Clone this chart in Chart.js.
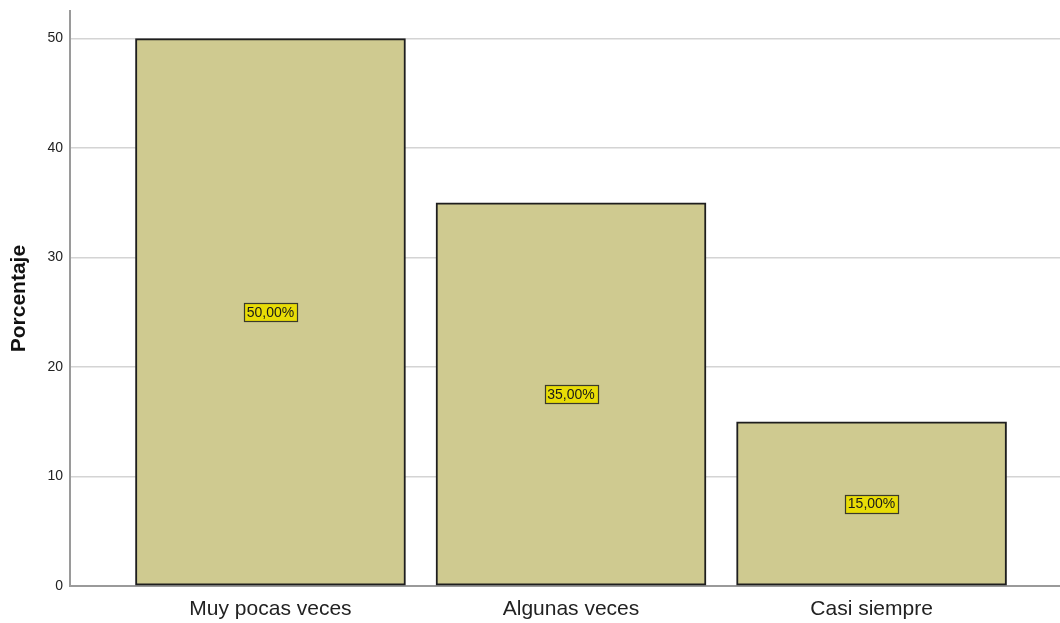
<!DOCTYPE html>
<html>
<head>
<meta charset="utf-8">
<script src="https://cdn.jsdelivr.net/npm/chart.js@4/dist/chart.umd.min.js"></script>
<style>
  html, body { margin: 0; padding: 0; background: #fff; }
  #wrap { width: 1060px; height: 623px; }
</style>
</head>
<body>
<div id="wrap"><canvas id="chart"></canvas></div>
<script>
const categories = ['Muy pocas veces', 'Algunas veces', 'Casi siempre'];
const percentages = [50, 35, 15];
const yTicks = [0, 10, 20, 30, 40, 50];

const FONT = 'Arial, "Liberation Sans", sans-serif';

// yellow value boxes in the middle of each bar
const valueBoxes = {
    id: 'valueBoxes',
    afterDatasetsDraw(chart) {
        const ctx = chart.ctx;
        const meta = chart.getDatasetMeta(0);
        ctx.save();
        ctx.font = '14px ' + FONT;
        ctx.textAlign = 'center';
        ctx.textBaseline = 'middle';
        meta.data.forEach((bar, i) => {
            const text = percentages[i].toFixed(2).replace('.', ',') + '%';
            const cx = bar.x;
            const cy = (bar.y + bar.base) / 2;
            const w = Math.round(ctx.measureText(text).width + 6);
            const h = 18;
            const left = Math.round(cx - w / 2);
            const top = Math.round(cy - h / 2);
            ctx.fillStyle = '#e8dc06';
            ctx.fillRect(left, top, w, h);
            ctx.strokeStyle = '#3a3a2a';
            ctx.lineWidth = 1.2;
            ctx.strokeRect(left + 0.5, top + 0.5, w, h);
            ctx.fillStyle = '#1a1a1a';
            ctx.fillText(text, cx, cy + 1);
        });
        ctx.restore();
    }
};

new Chart(document.getElementById('chart'), {
    type: 'bar',
    data: {
        datasets: [{
            data: percentages.map((v, i) => ({ x: i, y: v })),
            backgroundColor: '#cfca90',
            borderColor: '#1e1e1e',
            borderWidth: 2,
            borderSkipped: false,
            barThickness: 270
        }]
    },
    options: {
        responsive: true,
        maintainAspectRatio: false,
        animation: false,
        layout: { padding: { top: 10, right: 0, left: 0, bottom: 0 } },
        plugins: {
            legend: { display: false },
            tooltip: { enabled: false }
        },
        scales: {
            x: {
                type: 'linear',
                offset: false,
                min: -0.667,
                max: 2.627,
                afterBuildTicks: (scale) => {
                    scale.ticks = categories.map((c, i) => ({ value: i }));
                },
                afterFit: (scale) => { scale.height = 37; },
                grid: { display: false, drawTicks: false, offset: false },
                border: { display: true, color: '#9a9a9a', width: 2 },
                ticks: {
                    padding: 11,
                    color: '#222',
                    font: { family: FONT, size: 21 },
                    maxRotation: 0,
                    callback: (v) => categories[v]
                }
            },
            y: {
                min: 0,
                max: 52.5,
                afterBuildTicks: (scale) => {
                    scale.ticks = yTicks.map(v => ({ value: v }));
                },
                afterFit: (scale) => { scale.width = 70; },
                grid: { color: '#d4d4d4', lineWidth: 1.5, drawTicks: false },
                border: { display: true, color: '#9a9a9a', width: 2 },
                ticks: {
                    padding: 7,
                    color: '#222',
                    font: { family: FONT, size: 14, lineHeight: 0.6 }
                },
                title: {
                    display: true,
                    text: 'Porcentaje',
                    color: '#111',
                    font: { family: FONT, size: 21, weight: 'bold' },
                    padding: { top: 7, bottom: 0 }
                }
            }
        }
    },
    plugins: [valueBoxes]
});
</script>
</body>
</html>
